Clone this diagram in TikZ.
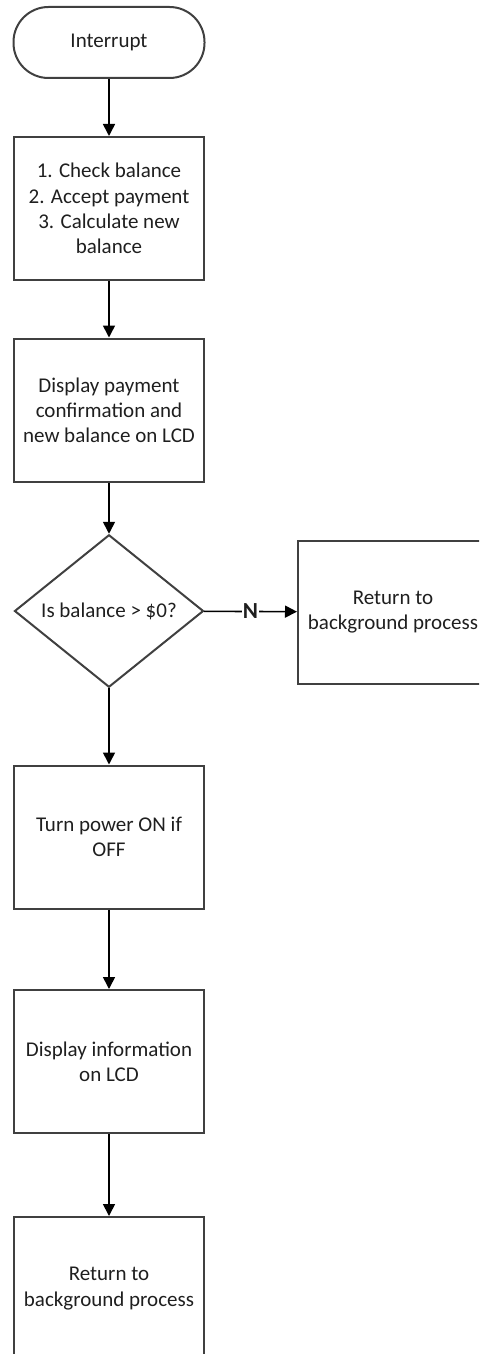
\documentclass[tikz,border=0pt]{standalone}
\usepackage{fontspec}
\setmainfont{Carlito}
\usepackage{tikz}
\usetikzlibrary{shapes.geometric,arrows.meta}

\begin{document}
\begin{tikzpicture}[x=0.5pt,y=-0.5pt]
\tikzstyle{every node}+=[inner sep=0pt, font=\fontsize{10.5}{12.6}\selectfont, text=black!88]
\tikzstyle{procbox}=[draw=black!75, line width=1pt, minimum width=95pt, minimum height=71.5pt, align=center]
\tikzstyle{flow}=[black, line width=0.8pt, -{Triangle[width=6pt,length=6pt]}]
\useasboundingbox (0,0) rectangle (479,1354);
\clip (0,0) rectangle (479,1354);
\node [draw=black!75, line width=1pt, rounded corners=17.5pt, minimum width=95.5pt, minimum height=35.5pt] (start) at (109,42.5) {Interrupt};
\node [procbox] (calc) at (109,208.5) {1. Check balance\\2. Accept payment\\3. Calculate new\\balance};
\node [procbox] (show) at (109,410) {Display payment\\confirmation and\\new balance on LCD};
\node [draw=black!75, line width=1pt, diamond, minimum width=94.5pt, minimum height=70.5pt] (check) at (109,611) {Is balance > \$0?};
\node [procbox] (retA) at (393,612) {Return to\\background process};
\node [procbox] (power) at (109,837) {Turn power ON if\\OFF};
\node [procbox] (info) at (109,1061.5) {Display information\\on LCD};
\node [procbox] (retB) at (109,1288.5) {Return to\\background process};
\draw [flow] (start) -- (calc);
\draw [flow] (calc) -- (show);
\draw [flow] (show) -- (check);
\draw [flow] (check) -- node [fill=white, inner sep=0.3pt, font=\fontsize{11.5}{12}\selectfont\bfseries] {N} (retA);
\draw [flow] (check) -- (power);
\draw [flow] (power) -- (info);
\draw [flow] (info) -- (retB);
\end{tikzpicture}
\end{document}
